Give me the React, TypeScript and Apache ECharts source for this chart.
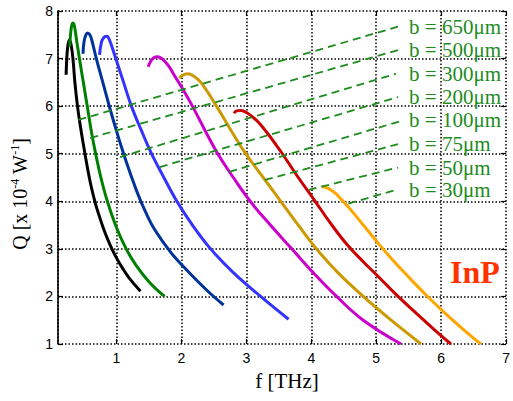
import React, { useEffect, useRef } from "react";
import * as echarts from "echarts";

// Q(f) curves for InP slabs of different thickness b: [f in THz, Q in 1e-4 W^-1]
const curve650: [number, number][] = [
  [0.225, 6.66], [0.235, 7.0], [0.25, 7.25], [0.275, 7.39], [0.3, 7.3], [0.33, 7.0],
  [0.36, 6.5], [0.4, 6.0], [0.45, 5.53], [0.5, 5.12], [0.55, 4.73], [0.6, 4.38],
  [0.65, 4.09], [0.7, 3.84], [0.8, 3.43], [0.9, 3.09], [1.0, 2.81], [1.1, 2.58],
  [1.2, 2.38], [1.37, 2.11],
];
const curve500: [number, number][] = [
  [0.28, 7.25], [0.3, 7.6], [0.326, 7.75], [0.35, 7.7], [0.39, 7.35], [0.43, 7.0],
  [0.49, 6.5], [0.56, 5.92], [0.62, 5.42], [0.68, 5.0], [0.76, 4.5], [0.86, 4.0],
  [1.0, 3.45], [1.15, 3.0], [1.3, 2.66], [1.5, 2.31], [1.74, 2.0],
];
const curve300: [number, number][] = [
  [0.485, 7.1], [0.5, 7.35], [0.53, 7.5], [0.555, 7.54], [0.59, 7.5], [0.62, 7.39],
  [0.69, 7.0], [0.79, 6.5], [0.9, 5.95], [1.0, 5.48], [1.11, 5.0], [1.22, 4.56],
  [1.33, 4.15], [1.45, 3.77], [1.59, 3.4], [1.84, 2.92], [2.1, 2.53], [2.4, 2.12],
  [2.65, 1.82],
];
const curve200: [number, number][] = [
  [0.74, 7.08], [0.77, 7.35], [0.81, 7.45], [0.85, 7.47], [0.89, 7.4], [0.99, 7.0],
  [1.11, 6.5], [1.23, 6.0], [1.38, 5.5], [1.54, 5.0], [1.73, 4.5], [1.93, 4.0],
  [2.17, 3.5], [2.45, 3.0], [2.8, 2.5], [3.22, 2.0], [3.65, 1.52],
];
const curve100: [number, number][] = [
  [1.49, 6.83], [1.53, 6.95], [1.58, 7.02], [1.63, 7.04], [1.7, 7.0], [1.8, 6.85],
  [1.9, 6.63], [2.03, 6.34], [2.17, 6.0], [2.36, 5.5], [2.56, 5.0], [2.8, 4.5],
  [3.06, 4.0], [3.37, 3.5], [3.7, 3.0], [4.03, 2.5], [4.39, 2.0], [4.8, 1.5], [5.38, 1.0],
];
const curve75: [number, number][] = [
  [1.97, 6.59], [2.02, 6.65], [2.1, 6.68], [2.18, 6.64], [2.3, 6.5], [2.54, 6.0],
  [2.76, 5.5], [2.99, 5.0], [3.26, 4.5], [3.53, 4.0], [3.8, 3.5], [4.08, 3.0],
  [4.41, 2.5], [4.8, 2.0], [5.23, 1.5], [5.69, 1.0],
];
const curve50: [number, number][] = [
  [2.81, 5.85], [2.85, 5.9], [2.92, 5.91], [3.02, 5.85], [3.1, 5.77], [3.2, 5.64],
  [3.32, 5.44], [3.44, 5.22], [3.55, 5.01], [3.8, 4.5], [4.06, 4.0], [4.29, 3.55],
  [4.55, 3.09], [4.8, 2.73], [5.03, 2.42], [5.3, 2.05], [5.59, 1.68], [5.88, 1.32],
  [6.15, 1.0],
];
const curve30: [number, number][] = [
  [4.16, 4.31], [4.26, 4.27], [4.37, 4.17], [4.47, 4.03], [4.57, 3.88], [4.67, 3.72],
  [4.8, 3.5], [5.03, 3.12], [5.25, 2.77], [5.49, 2.42], [5.76, 2.04], [6.05, 1.66],
  [6.33, 1.32], [6.61, 1.0],
];

const curves = [curve650, curve500, curve300, curve200, curve100, curve75, curve50, curve30];
const curveColors = ["#000000", "#008000", "#003399", "#3333ff", "#cc00cc", "#cc9900", "#cc0000", "#ffa500"];

// leader lines from each curve to its thickness label
const thicknessLabels = [
  "b = 650μm", "b = 500μm", "b = 300μm", "b = 200μm",
  "b = 100μm", "b = 75μm", "b = 50μm", "b = 30μm",
];
const leaderFrom: [number, number][] = [
  [0.413, 5.71], [0.596, 5.33], [1.055, 4.93], [1.667, 4.72],
  [2.737, 4.62], [3.287, 4.45], [3.96, 4.24], [4.57, 3.95],
];
const leaderTo: [number, number][] = [
  [5.335, 7.67], [5.366, 7.19], [5.304, 6.68], [5.335, 6.19],
  [5.41, 5.7], [5.335, 5.2], [5.335, 4.71], [5.3, 4.24],
];
const labelLeftF = 5.505;

const xTicks = { min: 0.1, max: 7 };
const yTicks = { min: 1, max: 8, step: 1 };

const GRID = { left: 58, right: 4, top: 11, bottom: 57 };
const WIDTH = 513;
const HEIGHT = 401;
const SERIF = "'Liberation Serif', 'Times New Roman', serif";
const SANS = "'Liberation Sans', Arial, sans-serif";
const LEADER_GREEN = "#1d8c1d";

export default function App() {
  const ref = useRef<HTMLDivElement>(null);

  useEffect(() => {
    if (!ref.current) return;
    const chart = echarts.init(ref.current, undefined, { renderer: "svg" });
    const pxPerF = (WIDTH - GRID.left - GRID.right) / (xTicks.max - xTicks.min);

    const dotted = { color: "#000", width: 1.5, type: [1.5, 2] as number[] };
    const ticks = { show: true, inside: true, length: 5, lineStyle: { color: "#000", width: 1.2 } };

    const curveSeries = curves.map((data, i) => ({
      type: "line",
      data,
      showSymbol: false,
      smooth: 0.4,
      lineStyle: { color: curveColors[i], width: 3 },
      z: 3,
      silent: true,
    }));

    const leaderSeries = leaderFrom.map((from, i) => ({
      type: "line",
      data: [from, leaderTo[i]],
      showSymbol: false,
      lineStyle: { color: LEADER_GREEN, width: 1.8, type: [8, 5] as number[] },
      z: 4,
      silent: true,
      endLabel: {
        show: true,
        formatter: thicknessLabels[i],
        distance: (labelLeftF - leaderTo[i][0]) * pxPerF,
        color: LEADER_GREEN,
        fontFamily: SERIF,
        fontSize: 21,
        lineHeight: 21,
      },
    }));

    chart.setOption({
      animation: false,
      backgroundColor: "#fff",
      grid: { ...GRID, containLabel: false },
      xAxis: [
        {
          type: "value",
          min: xTicks.min,
          max: xTicks.max,
          splitNumber: 7,
          minInterval: 1,
          maxInterval: 1,
          axisLine: { show: false },
          axisTick: ticks,
          axisLabel: {
            showMinLabel: false,
            color: "#000",
            fontFamily: SANS,
            fontSize: 14,
            margin: 7,
          },
          splitLine: { show: true, lineStyle: dotted },
        },
        {
          type: "value",
          position: "top",
          min: xTicks.min,
          max: xTicks.max,
          splitNumber: 7,
          minInterval: 1,
          maxInterval: 1,
          axisLine: { show: false },
          axisTick: ticks,
          axisLabel: { show: false },
          splitLine: { show: false },
        },
      ],
      yAxis: [
        {
          type: "value",
          min: yTicks.min,
          max: yTicks.max,
          interval: yTicks.step,
          axisLine: { show: true, lineStyle: { color: "#000", width: 1.6 } },
          axisTick: ticks,
          axisLabel: { color: "#000", fontFamily: SANS, fontSize: 14, margin: 5 },
          splitLine: { show: true, lineStyle: dotted },
        },
        {
          type: "value",
          position: "right",
          min: yTicks.min,
          max: yTicks.max,
          interval: yTicks.step,
          axisLine: { show: false },
          axisTick: ticks,
          axisLabel: { show: false },
          splitLine: { show: false },
        },
      ],
      series: [...curveSeries, ...leaderSeries],
      graphic: [
        {
          type: "text",
          x: 20,
          y: 194,
          rotation: Math.PI / 2,
          style: {
            text: "{n|Q [x 10}{s|-4}{n| W}{s|-1}{n|]}",
            align: "center",
            verticalAlign: "middle",
            fill: "#000",
            rich: {
              n: { fontFamily: SERIF, fontSize: 20, lineHeight: 22, fill: "#000" },
              s: { fontFamily: SERIF, fontSize: 12, lineHeight: 12, verticalAlign: "top", fill: "#000" },
            },
          },
        },
        {
          type: "text",
          x: 287,
          y: 381,
          style: {
            text: "f [THz]",
            align: "center",
            verticalAlign: "middle",
            fontFamily: SERIF,
            fontSize: 21,
            fill: "#000",
          },
        },
        {
          type: "text",
          x: 475,
          y: 272,
          style: {
            text: "InP",
            align: "center",
            verticalAlign: "middle",
            fontFamily: SERIF,
            fontWeight: "bold",
            fontSize: 32,
            fill: "#ff3300",
          },
        },
      ],
    });

    return () => chart.dispose();
  }, []);

  return (
    <div
      ref={ref}
      style={{ position: "fixed", left: 0, top: 0, width: WIDTH, height: HEIGHT, background: "#fff" }}
    />
  );
}
